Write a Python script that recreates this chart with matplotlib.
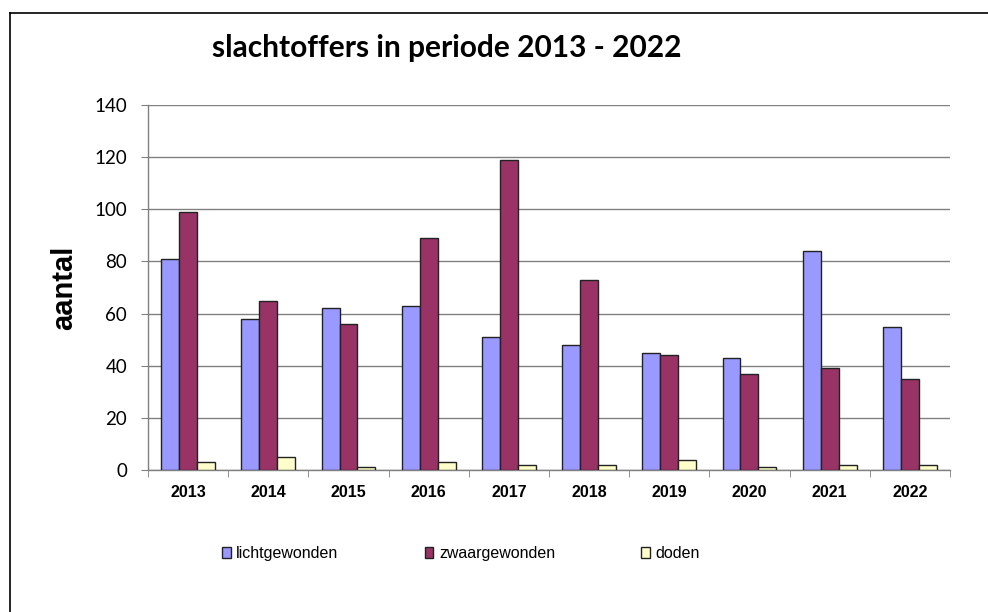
import matplotlib.pyplot as plt
import numpy as np
from matplotlib.lines import Line2D

years = ["2013", "2014", "2015", "2016", "2017", "2018", "2019", "2020", "2021", "2022"]
licht = [81, 58, 62, 63, 51, 48, 45, 43, 84, 55]
zwaar = [99, 65, 56, 89, 119, 73, 44, 37, 39, 35]
doden = [3, 5, 1, 3, 2, 2, 4, 1, 2, 2]

series_names = ["lichtgewonden", "zwaargewonden", "doden"]
colors = ["#9999FF", "#993366", "#FFFFCC"]

fig = plt.figure(figsize=(9.88, 6.12), dpi=100)
ax = fig.add_axes([0.1498, 0.232, 0.8117, 0.5964])

x = np.arange(len(years))
w = 0.224
for k, (vals, name, col) in enumerate(zip([licht, zwaar, doden], series_names, colors)):
    ax.bar(x + (k - 1) * w, vals, w, color=col, edgecolor="#222222", linewidth=1.0,
           label=name, zorder=3)

ax.set_xlim(-0.5, len(years) - 0.5)
ax.set_ylim(0, 140)
ax.set_yticks(range(0, 141, 20))
ax.yaxis.grid(True, color="#808080", linewidth=1.0, zorder=0)
ax.set_axisbelow(True)

ax.set_xticks(x)
ax.set_xticklabels(years, fontfamily="Liberation Sans", fontweight="bold", fontsize=11.5)
ax.set_xticks(np.arange(-0.5, len(years)), minor=True)
ax.tick_params(axis="x", which="major", length=0, pad=11)
ax.tick_params(axis="x", which="minor", length=5, color="#808080")
ax.tick_params(axis="y", length=5, color="#808080", pad=10)
for lab in ax.get_yticklabels():
    lab.set_fontfamily("Lato")
    lab.set_fontsize(13.5)

for s in ["top", "right"]:
    ax.spines[s].set_visible(False)
for s in ["left", "bottom"]:
    ax.spines[s].set_color("#808080")
    ax.spines[s].set_linewidth(1.0)

ax.set_ylabel("aantal", fontfamily="Liberation Sans", fontweight="bold", fontsize=21, labelpad=12)

fig.text(0.4525, 0.921, "slachtoffers in periode 2013 - 2022", ha="center", va="center",
         fontfamily="Lato", fontweight="bold", fontsize=21.5)

leg = fig.legend(loc="center", bbox_to_anchor=(0.4666, 0.096), ncol=3, frameon=False,
                 prop={"family": "Liberation Sans", "size": 11.5},
                 handlelength=0.55, handleheight=0.7, handletextpad=0.35, columnspacing=5.4)

# border of the chart area (left and top)
fig.add_artist(Line2D([0.0105, 0.0105], [0.0, 0.979], color="black", linewidth=1.2))
fig.add_artist(Line2D([0.0105, 1.0], [0.979, 0.979], color="black", linewidth=1.2))

fig.savefig("out.png", dpi=100)
